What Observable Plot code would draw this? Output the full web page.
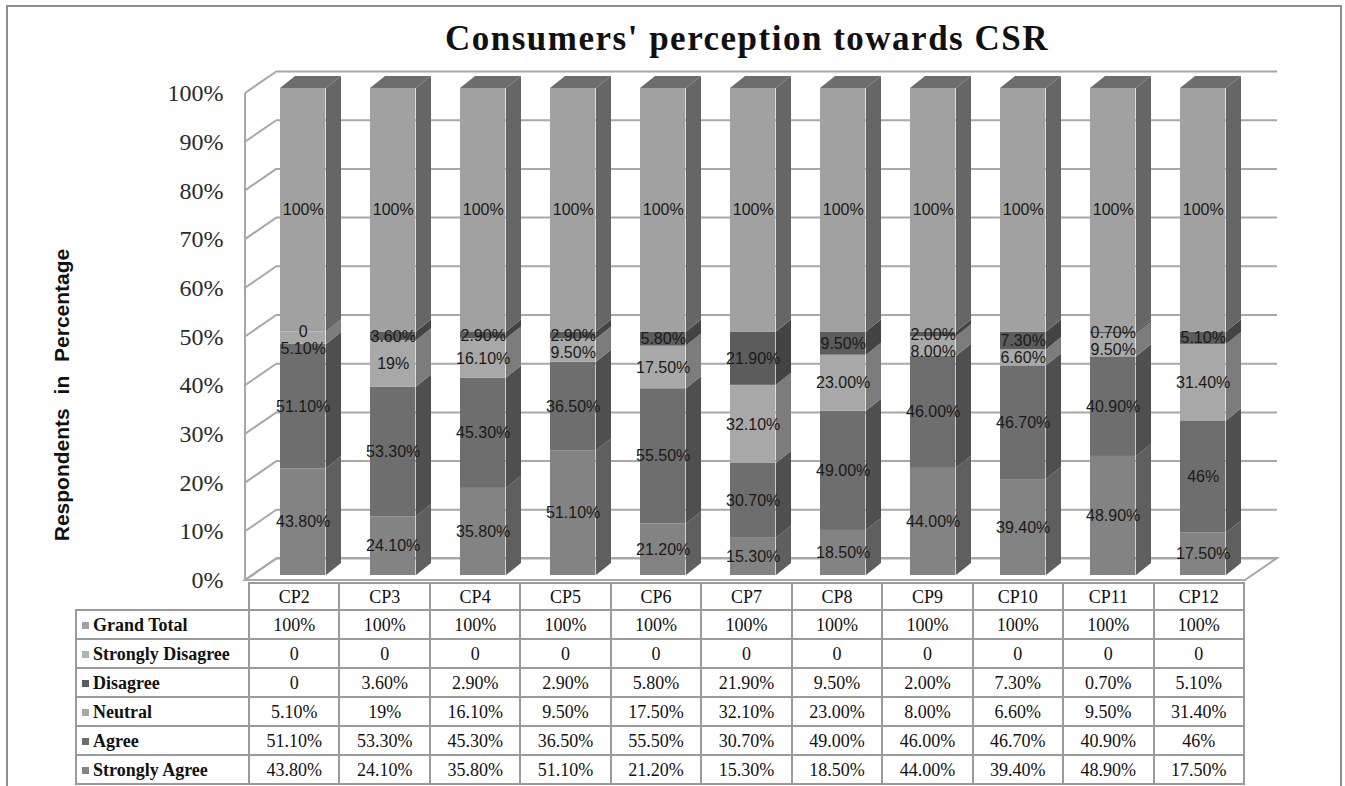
<!DOCTYPE html>
<html>
<head>
<meta charset="utf-8">
<script src="https://cdn.jsdelivr.net/npm/d3@7"></script>
<script src="https://cdn.jsdelivr.net/npm/@observablehq/plot@0.6"></script>
<style>
  html, body { margin: 0; padding: 0; background: #fff; }
  body { width: 1345px; height: 786px; overflow: hidden; position: relative; }
  #frame { position: absolute; left: 6px; top: 5px; width: 1336px; height: 820px; border: 2px solid #8f8f8f; box-sizing: border-box; }
  #chart { position: absolute; left: 0; top: 0; }
  #title { position: absolute; left: 247px; width: 1000px; top: 21px; text-align: center;
           font-family: "Liberation Serif", "Times New Roman", serif; font-weight: bold; font-size: 35px;
           line-height: 1; letter-spacing: 1.5px; color: #111; z-index: 2; }
  #ylabel { position: absolute; left: 62px; top: 395px; transform: translate(-50%, -50%) rotate(-90deg);
            font-family: "Liberation Sans", Arial, sans-serif; font-weight: bold; font-size: 21px;
            white-space: nowrap; word-spacing: 8px; color: #111; z-index: 2; }
  #tbl { position: absolute; left: 75px; top: 582px; border-collapse: collapse; table-layout: fixed; width: 1170px;
         font-family: "Liberation Serif", "Times New Roman", serif; font-size: 18px; color: #111; z-index: 2; }
  #tbl td { border: 2px solid #9a9a9a; text-align: center; padding: 0; height: 27px; line-height: 1; white-space: nowrap; }
  #tbl tr.hdr td { height: 25px; }
  #tbl td.corner { border: none; border-right: 2px solid #9a9a9a; }
  #tbl td.lbl { text-align: left; font-weight: bold; padding-left: 5px; }
  .sw { display: inline-block; width: 7px; height: 7px; margin-right: 4px; vertical-align: 2px; }
</style>
</head>
<body>
<div id="frame"></div>
<div id="title">Consumers' perception towards CSR</div>
<div id="ylabel">Respondents in Percentage</div>
<div id="chart"></div>
<script>
// ---------------- data ----------------
const categories = ["CP2","CP3","CP4","CP5","CP6","CP7","CP8","CP9","CP10","CP11","CP12"];
// stacking order, bottom to top
const seriesNames = ["Strongly Agree","Agree","Neutral","Disagree","Strongly Disagree","Grand Total"];

const stronglyAgree    = [43.8, 24.1, 35.8, 51.1, 21.2, 15.3, 18.5, 44.0, 39.4, 48.9, 17.5];
const agree            = [51.1, 53.3, 45.3, 36.5, 55.5, 30.7, 49.0, 46.0, 46.7, 40.9, 46.0];
const neutral          = [5.1, 19.0, 16.1, 9.5, 17.5, 32.1, 23.0, 8.0, 6.6, 9.5, 31.4];
const disagree         = [0, 3.6, 2.9, 2.9, 5.8, 21.9, 9.5, 2.0, 7.3, 0.7, 5.1];
const stronglyDisagree = [0, 0, 0, 0, 0, 0, 0, 0, 0, 0, 0];
const grandTotal       = [100, 100, 100, 100, 100, 100, 100, 100, 100, 100, 100];

const stronglyAgreeLabels    = ["43.80%","24.10%","35.80%","51.10%","21.20%","15.30%","18.50%","44.00%","39.40%","48.90%","17.50%"];
const agreeLabels            = ["51.10%","53.30%","45.30%","36.50%","55.50%","30.70%","49.00%","46.00%","46.70%","40.90%","46%"];
const neutralLabels          = ["5.10%","19%","16.10%","9.50%","17.50%","32.10%","23.00%","8.00%","6.60%","9.50%","31.40%"];
const disagreeLabels         = ["0","3.60%","2.90%","2.90%","5.80%","21.90%","9.50%","2.00%","7.30%","0.70%","5.10%"];
const stronglyDisagreeLabels = ["0","0","0","0","0","0","0","0","0","0","0"];
const grandTotalLabels       = ["100%","100%","100%","100%","100%","100%","100%","100%","100%","100%","100%"];

const yTicks = [0, 10, 20, 30, 40, 50, 60, 70, 80, 90, 100];
const yTickLabels = ["0%","10%","20%","30%","40%","50%","60%","70%","80%","90%","100%"];

// ---------------- styles ----------------
const frontColors = ["#838383", "#6e6e6e", "#a8a8a8", "#5c5c5c", "#b2b2b2", "#a1a1a1"];
const sideColors  = ["#5f5f5f", "#4f4f4f", "#7c7c7c", "#434343", "#858585", "#666666"];
const topColor = "#6d6d6d";
const gridColor = "#a8a8a8";

// ---------------- build table ----------------
const seriesValues = [stronglyAgree, agree, neutral, disagree, stronglyDisagree, grandTotal];
const seriesLabels = [stronglyAgreeLabels, agreeLabels, neutralLabels, disagreeLabels, stronglyDisagreeLabels, grandTotalLabels];

const rows = [];
categories.forEach((cat, ci) => {
  const total = d3.sum(seriesValues, s => s[ci]);
  let cum = 0;
  seriesNames.forEach((name, si) => {
    const v = seriesValues[si][ci];
    rows.push({cat, series: name, si, value: v, label: seriesLabels[si][ci],
               y1: cum / total, y2: (cum + v) / total, mid: (cum + v / 2) / total,
               top: si === seriesNames.length - 1});
    cum += v;
  });
});

// ---------------- geometry ----------------
const W = 1345, H = 600;
const xRange = [248, 1245];
const yRange = [575, 88];
const step = (xRange[1] - xRange[0]) / categories.length;
const insetL = 28, barW = 46, insetR = step - insetL - barW;
const barDX = 15, barDY = 12;        // bar depth
const wallDX = 32, wallDY = 22;      // floor depth
const frontOff = 5;                  // bar front plane -> floor front edge
const floorLeft = 245;
const minLabelGap = 17;              // px between stacked labels

// label placement: (Strongly Disagree labels are hidden on the bars, as in the original)
const labelRows = [];
categories.forEach(cat => {
  const segs = rows.filter(r => r.cat === cat && r.series !== "Strongly Disagree").sort((a, b) => b.mid - a.mid);
  const unit = minLabelGap / (yRange[0] - yRange[1]);
  let prev = Infinity;
  segs.forEach(r => {
    const m = Math.min(r.mid, prev - unit);
    labelRows.push({...r, labelY: m});
    prev = m;
  });
});

function walls(index, scales) {
  const y = scales.y;
  const g = d3.create("svg:g");
  const y0f = y(0) + frontOff, y1f = y(1) + frontOff;
  const xr = xRange[1];
  g.append("path")
    .attr("d", `M${floorLeft},${y0f}L${xr},${y0f}L${xr + wallDX},${y0f - wallDY}L${floorLeft + wallDX},${y0f - wallDY}Z`)
    .attr("fill", "#fff").attr("stroke", gridColor).attr("stroke-width", 2);
  g.append("line").attr("x1", floorLeft).attr("x2", floorLeft).attr("y1", y1f).attr("y2", y0f)
    .attr("stroke", gridColor).attr("stroke-width", 2);
  yTicks.forEach(t => {
    const yy = y(t / 100) + frontOff;
    g.append("line").attr("x1", floorLeft).attr("y1", yy).attr("x2", floorLeft + wallDX).attr("y2", yy - wallDY)
      .attr("stroke", gridColor).attr("stroke-width", 2);
  });
  return g.node();
}

function sideFaces(index, scales) {
  const {x, y} = scales;
  const g = d3.create("svg:g");
  rows.forEach(r => {
    const xr = x(r.cat) + insetL + barW;
    const yb = y(r.y1), yt = y(r.y2);
    g.append("path")
      .attr("d", `M${xr},${yb}L${xr + barDX},${yb - barDY}L${xr + barDX},${yt - barDY}L${xr},${yt}Z`)
      .attr("fill", sideColors[r.si]);
  });
  return g.node();
}

function topFaces(index, scales) {
  const {x, y} = scales;
  const g = d3.create("svg:g");
  rows.filter(r => r.top).forEach(r => {
    const xl = x(r.cat) + insetL, xr = xl + barW;
    const yt = y(r.y2);
    g.append("path")
      .attr("d", `M${xl},${yt}L${xr},${yt}L${xr + barDX},${yt - barDY}L${xl + barDX},${yt - barDY}Z`)
      .attr("fill", topColor);
  });
  return g.node();
}

const plot = Plot.plot({
  width: W, height: H,
  marginLeft: 277, marginRight: W - 1277, marginTop: 88, marginBottom: H - 575,
  style: {background: "transparent", overflow: "visible"},
  x: {type: "band", domain: categories, range: xRange, padding: 0, axis: null},
  y: {domain: [0, 1], range: yRange, axis: null},
  color: {domain: seriesNames, range: frontColors},
  marks: [
    walls,
    Plot.ruleY(yTicks.map(t => t / 100), {dy: -(wallDY - frontOff), stroke: gridColor, strokeWidth: 2}),
    sideFaces,
    Plot.barY(rows, {x: "cat", y1: "y1", y2: "y2", fill: "series", insetLeft: insetL, insetRight: insetR}),
    topFaces,
    Plot.text(labelRows, {x: "cat", y: "labelY", text: "label", dx: insetL + barW / 2 - step / 2,
                     fontSize: 16, fontFamily: "Liberation Sans, Arial, sans-serif", fill: "#1a1a1a"}),
    Plot.text(yTicks, {y: d => d / 100, text: (d, i) => yTickLabels[i], frameAnchor: "left", textAnchor: "end",
                       dx: -54, dy: 5, fontSize: 24, fontFamily: "Liberation Serif, Times New Roman, serif", fill: "#2b2b2b"})
  ]
});
document.getElementById("chart").appendChild(plot);

// ---------------- data table ----------------
const table = d3.select("body").append("table").attr("id", "tbl");
const cg = table.append("colgroup");
cg.append("col").style("width", "173px");
categories.forEach(() => cg.append("col"));
const hdr = table.append("tr").attr("class", "hdr");
hdr.append("td").attr("class", "corner");
categories.forEach(c => hdr.append("td").text(c));
for (let si = seriesNames.length - 1; si >= 0; si--) {
  const tr = table.append("tr");
  const lbl = tr.append("td").attr("class", "lbl");
  lbl.append("span").attr("class", "sw").style("background", frontColors[si]);
  lbl.append("span").text(seriesNames[si]);
  seriesLabels[si].forEach(t => tr.append("td").text(t));
}
</script>
</body>
</html>
